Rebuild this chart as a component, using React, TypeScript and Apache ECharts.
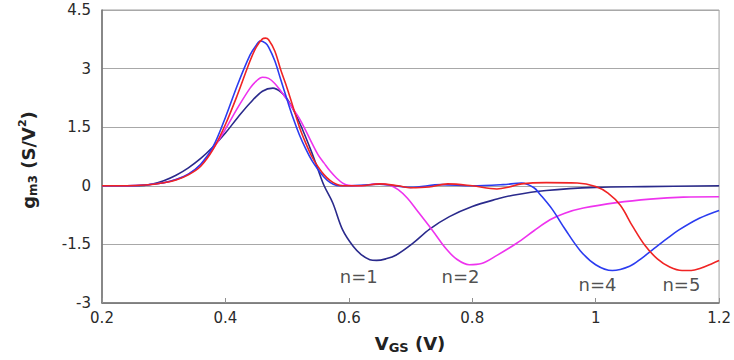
import React, { useEffect, useRef } from "react";
import * as echarts from "echarts";

// ---- data ----
const n1X = [0.2, 0.26, 0.28, 0.3, 0.32, 0.34, 0.36, 0.38, 0.4, 0.42, 0.44, 0.46, 0.477, 0.49, 0.5, 0.51, 0.52, 0.53, 0.54, 0.55, 0.56, 0.574, 0.59, 0.607, 0.62, 0.634, 0.645, 0.66, 0.677, 0.704, 0.731, 0.763, 0.8, 0.84, 0.866, 0.92, 1.0, 1.08, 1.2];
const n1Y = [0, 0, 0.04, 0.13, 0.27, 0.46, 0.7, 1.0, 1.35, 1.75, 2.12, 2.42, 2.5, 2.4, 2.22, 1.95, 1.62, 1.25, 0.85, 0.42, 0.0, -0.44, -1.13, -1.55, -1.76, -1.89, -1.91, -1.87, -1.77, -1.47, -1.11, -0.79, -0.53, -0.34, -0.24, -0.12, -0.04, -0.02, 0];

const n2X = [0.2, 0.24, 0.27, 0.3, 0.32, 0.34, 0.36, 0.38, 0.4, 0.42, 0.44, 0.45, 0.46, 0.47, 0.48, 0.49, 0.5, 0.51, 0.52, 0.53, 0.54, 0.55, 0.56, 0.57, 0.58, 0.59, 0.6, 0.62, 0.645, 0.665, 0.68, 0.695, 0.71, 0.735, 0.758, 0.775, 0.795, 0.815, 0.84, 0.872, 0.9, 0.926, 0.95, 0.98, 1.034, 1.088, 1.142, 1.2];
const n2Y = [0, 0, 0.02, 0.08, 0.16, 0.3, 0.54, 0.95, 1.45, 2.0, 2.5, 2.68, 2.78, 2.75, 2.62, 2.42, 2.2, 1.96, 1.72, 1.42, 1.1, 0.8, 0.58, 0.37, 0.2, 0.07, 0.01, 0, 0.05, 0.02, -0.1, -0.32, -0.62, -1.13, -1.62, -1.88, -2.02, -1.99, -1.78, -1.47, -1.15, -0.87, -0.7, -0.57, -0.43, -0.34, -0.29, -0.28];

const n4X = [0.2, 0.24, 0.27, 0.3, 0.32, 0.34, 0.36, 0.38, 0.4, 0.42, 0.44, 0.45, 0.457, 0.465, 0.47, 0.48, 0.49, 0.5, 0.51, 0.52, 0.53, 0.54, 0.55, 0.56, 0.57, 0.58, 0.6, 0.65, 0.7, 0.75, 0.8, 0.85, 0.88, 0.9, 0.91, 0.93, 0.95, 0.975, 1.0, 1.027, 1.055, 1.075, 1.092, 1.115, 1.135, 1.168, 1.2];
const n4Y = [0, 0, 0.02, 0.08, 0.16, 0.3, 0.55, 1.0, 1.75, 2.6, 3.35, 3.6, 3.71, 3.65, 3.55, 3.2, 2.7, 2.2, 1.72, 1.3, 0.95, 0.65, 0.42, 0.22, 0.08, 0.01, 0, 0.04, -0.04, 0.03, 0, 0.03, 0.07, -0.05, -0.22, -0.61, -1.1, -1.66, -2.02, -2.17, -2.06, -1.85, -1.64, -1.36, -1.13, -0.83, -0.63];

const n5X = [0.2, 0.24, 0.27, 0.3, 0.32, 0.34, 0.36, 0.38, 0.4, 0.42, 0.44, 0.45, 0.46, 0.465, 0.47, 0.48, 0.49, 0.5, 0.51, 0.52, 0.53, 0.54, 0.55, 0.56, 0.57, 0.58, 0.59, 0.62, 0.65, 0.68, 0.7, 0.73, 0.76, 0.8, 0.84, 0.86, 0.88, 0.92, 0.97, 1.0, 1.02, 1.04, 1.06, 1.08, 1.1, 1.12, 1.14, 1.155, 1.17, 1.19, 1.2];
const n5Y = [0, 0, 0.02, 0.08, 0.15, 0.28, 0.5, 0.93, 1.57, 2.35, 3.2, 3.55, 3.76, 3.78, 3.74, 3.45, 2.95, 2.5, 2.0, 1.5, 1.1, 0.75, 0.49, 0.28, 0.13, 0.04, 0, 0, 0.05, 0.0, -0.05, -0.03, 0.05, 0, -0.08, -0.03, 0.05, 0.08, 0.07, -0.02, -0.19, -0.5, -1.04, -1.53, -1.87, -2.08, -2.17, -2.17, -2.11, -1.98, -1.91];

const seriesNames = ["n=1", "n=2", "n=4", "n=5"];
const seriesColors = ["#2a2a8c", "#ee33ee", "#2b3cf0", "#f02424"];

const labelTexts = ["n=1", "n=2", "n=4", "n=5"];
const labelX = [0.616, 0.781, 1.003, 1.139];
const labelY = [-2.33, -2.33, -2.53, -2.53];

const xTickMin = 0.2;
const xTickMax = 1.2;
const xTickStep = 0.2;
const yTickMin = -3;
const yTickMax = 4.5;
const yTickStep = 1.5;

const pairs = (xs: number[], ys: number[]) => xs.map((x, i) => [x, ys[i]]);

export default function App() {
  const ref = useRef<HTMLDivElement>(null);
  useEffect(() => {
    if (!ref.current) return;
    const chart = echarts.init(ref.current, null, { renderer: "svg" });
    const allData = [pairs(n1X, n1Y), pairs(n2X, n2Y), pairs(n4X, n4Y), pairs(n5X, n5Y)];
    const tickFont = { fontFamily: "DejaVu Sans", fontSize: 15, color: "#2a2a2a" };
    chart.setOption({
      animation: false,
      backgroundColor: "#fff",
      grid: {
        left: 102,
        right: 14,
        top: 10,
        bottom: 57,
        show: true,
        borderColor: "#a0a0a0",
        borderWidth: 1,
        backgroundColor: "transparent",
      },
      xAxis: {
        type: "value",
        min: xTickMin,
        max: xTickMax,
        interval: xTickStep,
        axisLine: { show: true, onZero: false, lineStyle: { color: "#707070", width: 1.5 } },
        axisTick: { show: true, inside: true, length: 5, lineStyle: { color: "#909090" } },
        splitLine: { show: false },
        axisLabel: { ...tickFont, margin: 7 },
      },
      yAxis: {
        type: "value",
        min: yTickMin,
        max: yTickMax,
        interval: yTickStep,
        axisLine: { show: true, onZero: false, lineStyle: { color: "#707070", width: 1.5 } },
        axisTick: { show: false },
        splitLine: { show: true, lineStyle: { color: "#a8a8a8", width: 1 } },
        axisLabel: { ...tickFont, margin: 11 },
      },
      graphic: [
        {
          type: "text",
          x: 28,
          y: 160,
          rotation: Math.PI / 2,
          style: {
            text: "{g|g}{s|m3}{g| (S/V}{p|2}{g|)}",
            align: "center",
            verticalAlign: "middle",
            fill: "#222",
            rich: {
              g: { fontFamily: "DejaVu Sans", fontWeight: "bold", fontSize: 18, lineHeight: 22, fill: "#222" },
              s: { fontFamily: "DejaVu Sans", fontWeight: "bold", fontSize: 12, lineHeight: 22, verticalAlign: "bottom", fill: "#222" },
              p: { fontFamily: "DejaVu Sans", fontWeight: "bold", fontSize: 11, lineHeight: 22, verticalAlign: "top", fill: "#222" },
            },
          },
        },
        {
          type: "text",
          x: 410,
          y: 343,
          style: {
            text: "{g|V}{s|GS}{g| (V)}",
            align: "center",
            verticalAlign: "middle",
            fill: "#222",
            rich: {
              g: { fontFamily: "DejaVu Sans", fontWeight: "bold", fontSize: 18, lineHeight: 22, fill: "#222" },
              s: { fontFamily: "DejaVu Sans", fontWeight: "bold", fontSize: 13, lineHeight: 22, verticalAlign: "bottom", fill: "#222" },
            },
          },
        },
      ],
      series: [
        ...allData.map((d, i) => ({
          type: "line",
          name: seriesNames[i],
          data: d,
          smooth: 0.35,
          showSymbol: false,
          symbol: "none",
          lineStyle: { color: seriesColors[i], width: 1.6 },
          itemStyle: { color: seriesColors[i] },
          z: 3,
        })),
        {
          type: "scatter",
          name: "labels",
          symbolSize: 1,
          itemStyle: { color: "rgba(0,0,0,0)" },
          data: labelTexts.map((t, i) => ({ name: t, value: [labelX[i], labelY[i]] })),
          label: {
            show: true,
            position: "inside",
            formatter: "{b}",
            fontFamily: "DejaVu Sans",
            fontSize: 18,
            color: "#222",
          },
          z: 4,
        },
      ],
    });
    return () => chart.dispose();
  }, []);
  return <div ref={ref} style={{ position: "absolute", left: 0, top: 0, width: 734, height: 360 }} />;
}
